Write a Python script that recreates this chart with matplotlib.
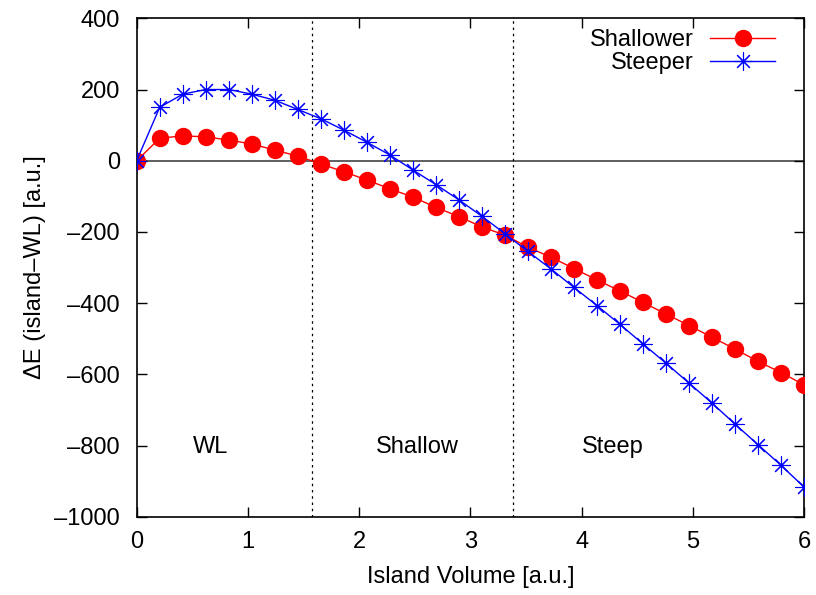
import matplotlib
matplotlib.use("Agg")
import matplotlib.pyplot as plt

plt.rcParams["font.family"] = ["Liberation Sans", "DejaVu Sans"]

# island volume [a.u.]
volume = [0.0, 0.207, 0.414, 0.621, 0.828, 1.034, 1.241, 1.448, 1.655, 1.862,
          2.069, 2.276, 2.483, 2.690, 2.897, 3.103, 3.310, 3.517, 3.724, 3.931,
          4.138, 4.345, 4.552, 4.759, 4.966, 5.172, 5.379, 5.586, 5.793, 6.0]

shallower = [0, 63, 70, 67, 58, 47, 30, 13, -9, -31,
             -54, -79, -102, -131, -157, -186, -209, -243, -271, -303,
             -335, -366, -398, -431, -463, -496, -529, -564, -595, -630]

steeper = [0, 150, 187, 200, 200, 187, 170, 144, 118, 86,
           52, 16, -26, -67, -110, -156, -205, -255, -304, -356,
           -407, -460, -515, -569, -625, -681, -740, -798, -856, -917]

boundaries = [1.58, 3.38]
regions = ["WL", "Shallow", "Steep"]
region_x = [0.66, 2.52, 4.28]
region_y = -803

xticks = [0, 1, 2, 3, 4, 5, 6]
yticks = [400, 200, 0, -200, -400, -600, -800, -1000]

FS = 17


def main():
    fig = plt.figure(figsize=(8.16, 5.95), dpi=100)
    ax = fig.add_axes([0.1675, 0.1316, 0.818, 0.8376])

    ax.axhline(0, color="#444444", lw=1.2, zorder=1)
    for b in boundaries:
        ax.axvline(b, color="black", lw=0.9, ls=(0, (2, 3)), zorder=1)

    ax.plot(volume, shallower, color="red", lw=1, marker="o", ms=11.5,
            mec="red", mfc="red", label="Shallower", zorder=3)
    ax.plot(volume, steeper, color="blue", lw=1, marker=(8, 2, 0), ms=13,
            mew=0.8, mec="blue", label="Steeper", zorder=4)

    for name, xx in zip(regions, region_x):
        ax.text(xx, region_y, name, ha="center", va="center", fontsize=FS)

    ax.set_xlim(0, 6)
    ax.set_ylim(-1000, 400)
    ax.set_xticks(xticks)
    ax.set_yticks(yticks)
    ax.set_yticklabels([str(t).replace("-", "\u2013") for t in yticks])
    ax.tick_params(direction="in", length=7, width=1, top=True, right=True,
                   labelsize=FS)
    ax.tick_params(axis="y", pad=12)
    ax.tick_params(axis="x", pad=10)
    for s in ax.spines.values():
        s.set_linewidth(1.2)

    ax.set_xlabel("Island Volume [a.u.]", fontsize=FS, labelpad=10)
    ax.set_ylabel("\u0394E (island\u2013WL) [a.u.]", fontsize=FS, labelpad=6)

    ax.legend(loc="upper right", bbox_to_anchor=(0.9565, 0.978),
              frameon=False, markerfirst=False, fontsize=FS,
              handlelength=2.75, handletextpad=0.7, borderpad=0,
              borderaxespad=0, labelspacing=0.05)

    fig.savefig("out.png", dpi=100)
    plt.close(fig)


if __name__ == "__main__":
    main()
